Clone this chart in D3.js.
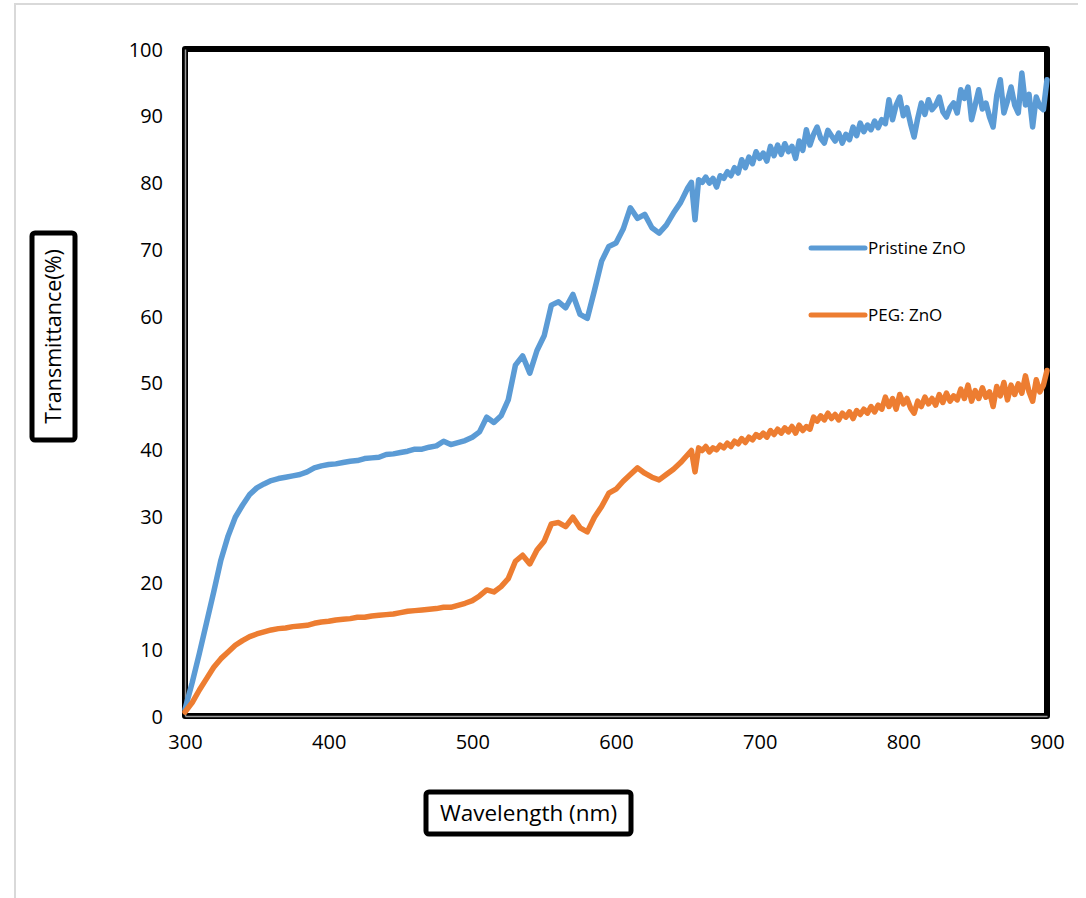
<!DOCTYPE html>
<html>
<head>
<meta charset="utf-8">
<script src="https://cdn.jsdelivr.net/npm/d3@7"></script>
<style>
  html, body { margin: 0; padding: 0; background: #fff; }
  svg { display: block; }
  text { font-family: "Open Sans", "Liberation Sans", sans-serif; fill: #000; }
</style>
</head>
<body>
<svg id="chart" width="1086" height="898"></svg>
<script>
// Wavelength grid (nm): 5 nm steps up to 650 nm, 2.5 nm steps beyond
const wavelengths = [
  300,305,310,315,320,325,330,335,340,345,350,355,360,365,370,375,380,385,390,395,
  400,405,410,415,420,425,430,435,440,445,450,455,460,465,470,475,480,485,490,495,
  500,505,510,515,520,525,530,535,540,545,550,555,560,565,570,575,580,585,590,595,
  600,605,610,615,620,625,630,635,640,645,650,
  652.5,655,657.5,660,662.5,665,667.5,670,672.5,675,677.5,680,682.5,685,687.5,690,692.5,695,697.5,700,
  702.5,705,707.5,710,712.5,715,717.5,720,722.5,725,727.5,730,732.5,735,737.5,740,742.5,745,747.5,750,
  752.5,755,757.5,760,762.5,765,767.5,770,772.5,775,777.5,780,782.5,785,787.5,790,792.5,795,797.5,800,
  802.5,805,807.5,810,812.5,815,817.5,820,822.5,825,827.5,830,832.5,835,837.5,840,842.5,845,847.5,850,
  852.5,855,857.5,860,862.5,865,867.5,870,872.5,875,877.5,880,882.5,885,887.5,890,892.5,895,897.5,900
];

// Transmittance (%) of pristine ZnO
const pristineZnO = [
  1.0,5.0,9.4,14.0,18.6,23.4,27.0,29.8,31.6,33.2,34.2,34.8,35.3,35.6,35.8,36.0,36.2,36.6,37.2,37.5,
  37.7,37.8,38.0,38.2,38.3,38.6,38.7,38.8,39.2,39.3,39.5,39.7,40.0,40.0,40.3,40.5,41.2,40.7,41.0,41.3,
  41.8,42.6,44.8,44.0,45.0,47.4,52.6,54.0,51.4,54.8,57.0,61.6,62.1,61.2,63.2,60.2,59.6,63.8,68.2,70.4,
  70.9,73.0,76.2,74.6,75.2,73.2,72.4,73.6,75.4,77.0,79.2,
  80.0,74.4,80.4,80.0,80.8,79.9,80.6,79.3,81.0,80.6,81.6,81.0,82.2,81.4,83.4,82.2,83.8,82.8,84.6,83.6,
  84.4,83.2,85.4,84.0,85.6,84.2,85.8,84.6,85.4,83.6,86.2,84.8,87.9,85.6,87.2,88.3,86.6,85.9,87.8,87.0,
  86.2,87.4,85.9,87.2,86.4,88.3,87.0,88.9,87.6,88.6,87.9,89.2,88.2,89.4,88.8,92.4,89.4,91.6,92.8,90.0,
  91.2,88.8,86.8,89.6,91.9,90.2,92.4,90.9,91.6,92.8,90.6,89.8,91.2,91.9,90.4,93.9,92.6,94.3,89.4,91.6,
  93.9,91.0,91.9,89.8,88.3,93.0,95.4,90.4,92.2,94.3,91.6,90.4,96.4,91.6,93.2,88.3,92.8,91.4,90.9,95.4
];

// Transmittance (%) of PEG-capped ZnO
const pegZnO = [
  0.6,2.0,3.9,5.6,7.3,8.6,9.6,10.6,11.3,11.9,12.3,12.6,12.9,13.1,13.2,13.4,13.5,13.6,13.9,14.1,
  14.2,14.4,14.5,14.6,14.8,14.8,15.0,15.1,15.2,15.3,15.5,15.7,15.8,15.9,16.0,16.1,16.3,16.3,16.6,16.9,
  17.3,18.0,18.9,18.6,19.4,20.6,23.2,24.1,22.8,24.9,26.2,28.8,29.0,28.4,29.8,28.2,27.6,29.8,31.4,33.4,
  34.0,35.2,36.2,37.2,36.4,35.8,35.4,36.2,37.0,38.0,39.2,
  39.8,36.6,40.2,39.8,40.4,39.6,40.2,39.9,40.6,40.2,40.9,40.4,41.2,40.8,41.6,41.0,41.8,41.4,42.2,41.8,
  42.4,41.8,42.8,42.2,43.0,42.4,43.2,42.6,43.4,42.4,43.6,42.8,43.4,43.0,44.8,44.2,45.0,44.4,45.4,44.6,
  45.2,44.4,45.4,44.8,45.6,44.6,45.8,45.2,46.0,45.4,46.4,45.6,46.6,46.0,47.8,46.4,47.6,46.0,48.2,46.8,
  47.6,46.2,45.4,47.2,46.4,47.8,46.8,47.6,46.6,48.2,47.0,48.4,47.2,48.0,47.4,49.0,47.6,49.6,47.2,48.8,
  47.6,49.2,47.8,48.6,46.4,49.4,48.0,50.0,47.4,49.6,48.2,49.8,48.4,51.0,48.6,47.2,50.4,48.6,49.6,51.8
];

const seriesNames = ["Pristine ZnO", "PEG: ZnO"];
const seriesColors = ["#5B9BD5", "#ED7D31"];
const xTicks = [300, 400, 500, 600, 700, 800, 900];
const yTicks = [0, 10, 20, 30, 40, 50, 60, 70, 80, 90, 100];
const xTitle = "Wavelength (nm)";
const yTitle = "Transmittance(%)";

const svg = d3.select("#chart");

// outer frame (top and left edges)
svg.append("path")
  .attr("d", "M15,898 L15,4 L1078,4")
  .attr("fill", "none")
  .attr("stroke", "#d9d9d9")
  .attr("stroke-width", 2);

const plot = { left: 185, top: 49, right: 1047, bottom: 716 };

const x = d3.scaleLinear().domain([300, 900]).range([plot.left, plot.right]);
const y = d3.scaleLinear().domain([0, 100]).range([plot.bottom, plot.top]);

// plot area border
svg.append("rect")
  .attr("x", plot.left).attr("y", plot.top)
  .attr("width", plot.right - plot.left).attr("height", plot.bottom - plot.top)
  .attr("fill", "none")
  .attr("stroke", "#000")
  .attr("stroke-width", 6)
  .attr("stroke-linejoin", "round");

// axes
const yAxis = svg.append("g")
  .attr("transform", `translate(${plot.left},0)`)
  .call(d3.axisLeft(y).tickValues(yTicks).tickSize(0).tickPadding(22));
const xAxis = svg.append("g")
  .attr("transform", `translate(0,${plot.bottom})`)
  .call(d3.axisBottom(x).tickValues(xTicks).tickSize(0).tickPadding(22));

[yAxis, xAxis].forEach(g => {
  g.select(".domain").attr("stroke", "#9a9a9a").attr("stroke-width", 1.5);
  g.selectAll("text")
    .style("font-family", "'Open Sans', sans-serif")
    .style("font-size", "20px")
    .attr("fill", "#000");
});
yAxis.selectAll("text").attr("dy", "0.36em");
xAxis.selectAll("text").attr("dy", "0.55em");

// data lines
const series = [pristineZnO, pegZnO];
const line = d3.line()
  .x((d, i) => x(wavelengths[i]))
  .y(d => y(d))
  .curve(d3.curveLinear);

series.forEach((vals, k) => {
  svg.append("path")
    .datum(vals)
    .attr("d", line)
    .attr("fill", "none")
    .attr("stroke", seriesColors[k])
    .attr("stroke-width", 5.5)
    .attr("stroke-linejoin", "round")
    .attr("stroke-linecap", "round");
});

// legend
const legendRows = [248, 315];
seriesNames.forEach((name, k) => {
  const g = svg.append("g").attr("transform", `translate(811,${legendRows[k]})`);
  g.append("line")
    .attr("x1", 0).attr("x2", 54)
    .attr("stroke", seriesColors[k])
    .attr("stroke-width", 5)
    .attr("stroke-linecap", "round");
  g.append("text")
    .attr("x", 57).attr("dy", "0.36em")
    .style("font-size", "17px")
    .text(name);
});

// y-axis title box
const yBox = { x: 32, y: 233, w: 43, h: 207 };
svg.append("rect")
  .attr("x", yBox.x).attr("y", yBox.y)
  .attr("width", yBox.w).attr("height", yBox.h)
  .attr("rx", 3)
  .attr("fill", "#fff")
  .attr("stroke", "#000")
  .attr("stroke-width", 5);
svg.append("text")
  .attr("transform", `translate(${yBox.x + yBox.w / 2},${yBox.y + yBox.h / 2}) rotate(-90)`)
  .attr("text-anchor", "middle")
  .attr("dy", "0.36em")
  .style("font-size", "21.5px")
  .text(yTitle);

// x-axis title box
const xBox = { x: 426, y: 792, w: 205, h: 42 };
svg.append("rect")
  .attr("x", xBox.x).attr("y", xBox.y)
  .attr("width", xBox.w).attr("height", xBox.h)
  .attr("rx", 3)
  .attr("fill", "#fff")
  .attr("stroke", "#000")
  .attr("stroke-width", 5);
svg.append("text")
  .attr("x", xBox.x + xBox.w / 2)
  .attr("y", xBox.y + xBox.h / 2)
  .attr("text-anchor", "middle")
  .attr("dy", "0.36em")
  .style("font-size", "22.5px")
  .text(xTitle);
</script>
</body>
</html>
